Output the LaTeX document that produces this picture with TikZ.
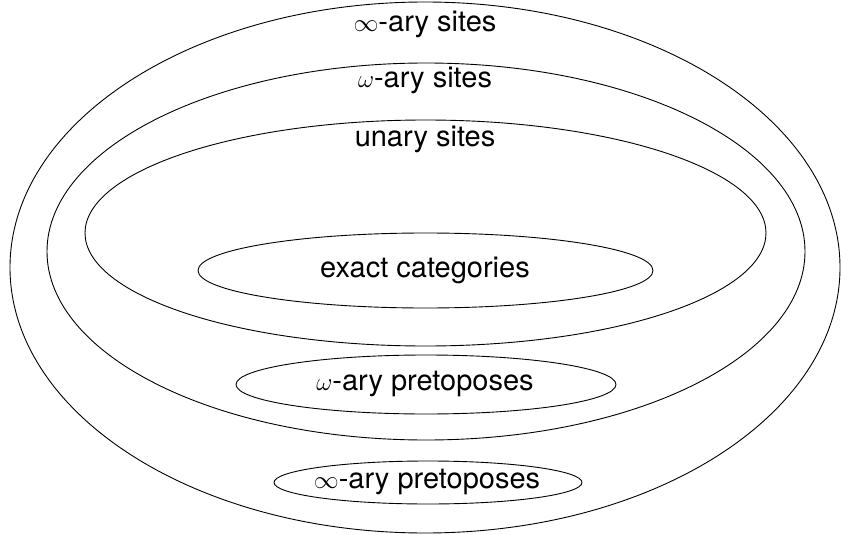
\documentclass[tikz,border=0pt]{standalone}
\usepackage{fontspec}
\setmainfont{TeX Gyre Heros}
\begin{document}
\begin{tikzpicture}[x=1pt,y=-1pt,
  region/.style={draw=black, line width=0.9pt},
  lbl/.style={font=\fontsize{29}{34}\selectfont, inner sep=0pt, anchor=base}]
\useasboundingbox (0,0) rectangle (841,535);
% nested classes
\draw[region] (425,267.5) ellipse [x radius=415, y radius=265.5];
\draw[region] (426,251.5) ellipse [x radius=379, y radius=188.5];
\draw[region] (425.5,233) ellipse [x radius=340.5, y radius=113];
\draw[region] (425.5,270.5) ellipse [x radius=227.5, y radius=37.5];
\draw[region] (426,384.5) ellipse [x radius=190, y radius=29.5];
\draw[region] (428,482.5) ellipse [x radius=154, y radius=21.5];
% labels
\node[lbl] (infsites) at (425,32) {$\infty$-ary sites};
\node[lbl] (omegasites) at (425,88) {$\omega$-ary sites};
\node[lbl] (unarysites) at (425,146) {unary sites};
\node[lbl] (exact) at (425,277) {exact categories};
\node[lbl] (omegapre) at (425,390) {$\omega$-ary pretoposes};
\node[lbl] (infpre) at (427,488) {$\infty$-ary pretoposes};
\end{tikzpicture}
\end{document}
